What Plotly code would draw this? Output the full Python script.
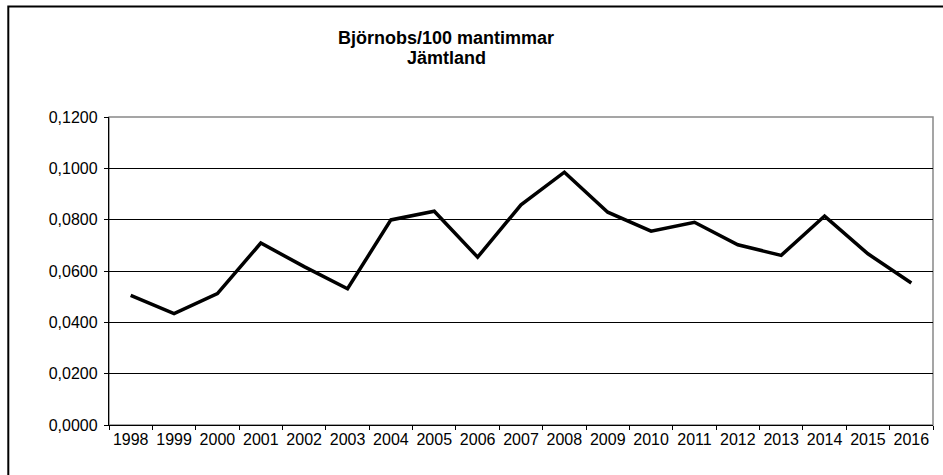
import plotly.graph_objects as go

years = [str(y) for y in range(1998, 2017)]
values = [0.0505, 0.0434, 0.0512, 0.0709, 0.0617, 0.0531, 0.0799, 0.0833, 0.0654,
          0.0858, 0.0985, 0.0829, 0.0755, 0.0790, 0.0702, 0.0661, 0.0814, 0.0667, 0.0553]
title_lines = ["Björnobs/100 mantimmar", "Jämtland"]
y_ticks = [0.0, 0.02, 0.04, 0.06, 0.08, 0.10, 0.12]

W, H = 943, 475
L, R, T, B = 109, 10, 116.5, 50.3
pw, ph = W - L - R, H - T - B

def px(x):
    return (x - L) / pw

def py(y):
    return (H - B - y) / ph

fig = go.Figure()
fig.add_trace(go.Scatter(x=years, y=values, mode="lines",
                         line=dict(color="black", width=3.5), hoverinfo="skip"))

font = dict(family="Liberation Sans, Arial, sans-serif", size=16, color="black")

fig.update_layout(
    width=W, height=H,
    margin=dict(l=L, r=R, t=T, b=B, pad=0),
    paper_bgcolor="white", plot_bgcolor="white",
    separators=", ",
    showlegend=False,
    font=font,
    xaxis=dict(type="category", range=[-0.5, 18.5], showgrid=False,
               showline=True, linecolor="black", linewidth=1.3,
               ticks="outside", ticklen=4, tickcolor="black", tickwidth=1.3,
               tickson="boundaries", tickangle=0, tickfont=font, zeroline=False,
               fixedrange=True, automargin=False),
    yaxis=dict(range=[0, 0.12], tickvals=y_ticks, tickformat=".4f",
               showgrid=True, gridcolor="black", gridwidth=1.2,
               showline=True, linecolor="black", linewidth=1.3,
               ticks="outside", ticklen=4, tickcolor="black", tickwidth=1.3,
               tickfont=font, zeroline=False, fixedrange=True, ticklabelstandoff=3,
               automargin=False),
    shapes=[
        dict(type="rect", xref="paper", yref="paper", x0=0, x1=1, y0=0, y1=1,
             line=dict(color="#888888", width=1.5), layer="below"),
        dict(type="rect", xref="paper", yref="paper",
             x0=px(8.3), x1=px(948), y0=py(480), y1=py(6),
             line=dict(color="black", width=2), layer="above"),
    ],
    annotations=[
        dict(text="<b>%s</b>" % title_lines[0], xref="paper", yref="paper",
             x=px(446), y=py(37), xanchor="center", yanchor="middle", showarrow=False,
             font=dict(family="Liberation Sans, Arial, sans-serif", size=18, color="black")),
        dict(text="<b>%s</b>" % title_lines[1], xref="paper", yref="paper",
             x=px(446), y=py(57), xanchor="center", yanchor="middle", showarrow=False,
             font=dict(family="Liberation Sans, Arial, sans-serif", size=18, color="black")),
    ],
)

fig.write_html("out.html", config={"displayModeBar": False},
               post_script="document.body.style.margin='0';document.body.style.overflow='hidden';")
